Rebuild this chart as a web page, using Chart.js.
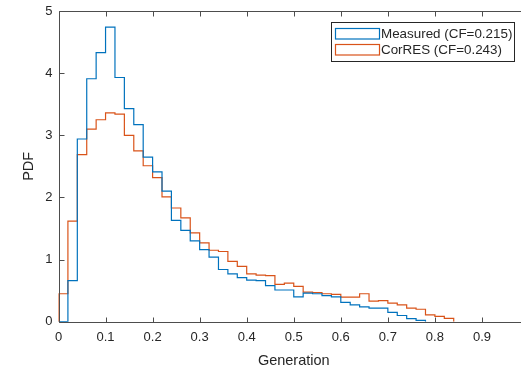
<!DOCTYPE html>
<html>
<head>
<meta charset="utf-8">
<script src="https://cdn.jsdelivr.net/npm/chart.js@4"></script>
<style>
  html, body { margin: 0; padding: 0; background: #fff; overflow: hidden; width: 521px; height: 371px; }
  #wrap { width: 540px; height: 371px; }
</style>
</head>
<body>
<div id="wrap"><canvas id="c" width="540" height="371"></canvas></div>
<script>
// Bin edges (Generation), width 0.02
const binEdges = [0,0.02,0.04,0.06,0.08,0.10,0.12,0.14,0.16,0.18,0.20,0.22,0.24,0.26,0.28,0.30,
  0.32,0.34,0.36,0.38,0.40,0.42,0.44,0.46,0.48,0.50,0.52,0.54,0.56,0.58,0.60,0.62,0.64,0.66,
  0.68,0.70,0.72,0.74,0.76,0.78,0.80,0.82,0.84];

// PDF values per bin (bin i spans binEdges[i]..binEdges[i+1])
const measuredPdf = [0,0.66,2.94,3.91,4.33,4.74,3.93,3.43,3.17,2.65,2.41,2.10,1.63,1.47,1.30,1.16,
  1.04,0.84,0.77,0.71,0.67,0.66,0.58,0.51,0.51,0.40,0.46,0.45,0.42,0.40,0.31,0.27,0.24,0.22,
  0.22,0.15,0.10,0.05,0.02];
const corresPdf = [0.45,1.62,2.69,3.10,3.25,3.36,3.34,3.00,2.75,2.51,2.32,2.01,1.83,1.67,1.43,1.27,
  1.15,1.13,0.97,0.89,0.77,0.75,0.74,0.60,0.62,0.57,0.475,0.47,0.45,0.44,0.395,0.395,0.45,0.33,
  0.34,0.30,0.27,0.22,0.20,0.11,0.085,0.053];

const seriesLabels = ['Measured (CF=0.215)', 'CorRES (CF=0.243)'];
const xTickValues = [0,0.1,0.2,0.3,0.4,0.5,0.6,0.7,0.8,0.9,1];
const yTickValues = [0,1,2,3,4,5];

function stairs(vals) {
  const pts = [{x: binEdges[0], y: 0}];
  for (let i = 0; i < vals.length; i++) pts.push({x: binEdges[i], y: vals[i]});
  pts.push({x: binEdges[vals.length], y: 0});
  return pts;
}

const FONT = "'Liberation Sans', Arial, Helvetica, sans-serif";
const TXT = '#262626';
const AX = '#4d4d4d';

const boxTicks = {
  id: 'boxTicks',
  afterDatasetsDraw(chart) {
    const {ctx, chartArea: a, scales: {x, y}} = chart;
    ctx.save();
    ctx.strokeStyle = AX;
    ctx.lineWidth = 1;
    ctx.beginPath();
    const L = Math.round(a.left) + 0.5, R = Math.round(a.right) + 0.5;
    const T = Math.round(a.top) + 0.5, B = Math.round(a.bottom) + 0.5;
    // left, top and bottom sides of the axes box (right side lies beyond the window)
    ctx.moveTo(R, T); ctx.lineTo(L, T); ctx.lineTo(L, B); ctx.lineTo(R, B);
    const tl = 5;
    xTickValues.forEach(v => {
      const px = Math.round(x.getPixelForValue(v)) + 0.5;
      ctx.moveTo(px, B); ctx.lineTo(px, B - tl);
      ctx.moveTo(px, T); ctx.lineTo(px, T + tl);
    });
    yTickValues.forEach(v => {
      const py = Math.round(y.getPixelForValue(v)) + 0.5;
      ctx.moveTo(L, py); ctx.lineTo(L + tl, py);
    });
    ctx.stroke();

    // legend
    const lx = 331.5, ly = 22.5, lw = 183, lh = 39;
    ctx.fillStyle = '#fff';
    ctx.fillRect(lx, ly, lw, lh);
    ctx.strokeStyle = '#262626';
    ctx.strokeRect(lx, ly, lw, lh);
    ctx.font = '13.4px ' + FONT;
    ctx.textBaseline = 'middle';
    ctx.textAlign = 'left';
    chart.data.datasets.forEach((ds, i) => {
      const ry = 28.5 + i * 16;
      ctx.strokeStyle = ds.borderColor;
      ctx.lineWidth = 1.2;
      ctx.strokeRect(335.5, ry, 44, 10.5);
      ctx.fillStyle = TXT;
      ctx.fillText(ds.label, 381, ry + 5.5);
    });
    ctx.restore();
  }
};

new Chart(document.getElementById('c'), {
  type: 'line',
  data: {
    datasets: [
      { label: seriesLabels[0], data: stairs(measuredPdf), borderColor: '#0072BD', borderWidth: 1.2,
        stepped: 'before', pointRadius: 0, fill: false },
      { label: seriesLabels[1], data: stairs(corresPdf), borderColor: '#D95319', borderWidth: 1.2,
        stepped: 'before', pointRadius: 0, fill: false }
    ]
  },
  options: {
    responsive: false,
    animation: false,
    layout: { padding: { top: 11, right: 11, left: 0, bottom: 0 } },
    plugins: { legend: { display: false }, tooltip: { enabled: false } },
    scales: {
      x: {
        type: 'linear', min: 0, max: 1,
        afterBuildTicks(s) { s.ticks = xTickValues.map(v => ({value: v})); },
        afterFit(s) { s.height = 49.3; s.paddingLeft = 0; s.paddingRight = 0; },
        grid: { display: false, drawTicks: false },
        border: { display: false },
        ticks: {
          padding: 8, color: TXT, font: { family: FONT, size: 13 }, maxRotation: 0, autoSkip: false,
          callback: v => (Math.round(v * 10) / 10).toString()
        },
        title: { display: true, text: 'Generation', color: TXT, font: { family: FONT, size: 14.5 },
          padding: { top: 0, bottom: 1 } }
      },
      y: {
        type: 'linear', min: 0, max: 5,
        afterBuildTicks(s) { s.ticks = yTickValues.map(v => ({value: v})); },
        afterFit(s) { s.width = 58.5; s.paddingTop = 0; s.paddingBottom = 0; },
        grid: { display: false, drawTicks: false },
        border: { display: false },
        ticks: { padding: 6, color: TXT, font: { family: FONT, size: 13 }, callback: v => String(v) },
        title: { display: true, text: 'PDF', color: TXT, font: { family: FONT, size: 14.5 },
          padding: { top: 20.5, bottom: 0 } }
      }
    }
  },
  plugins: [boxTicks]
});
</script>
</body>
</html>
